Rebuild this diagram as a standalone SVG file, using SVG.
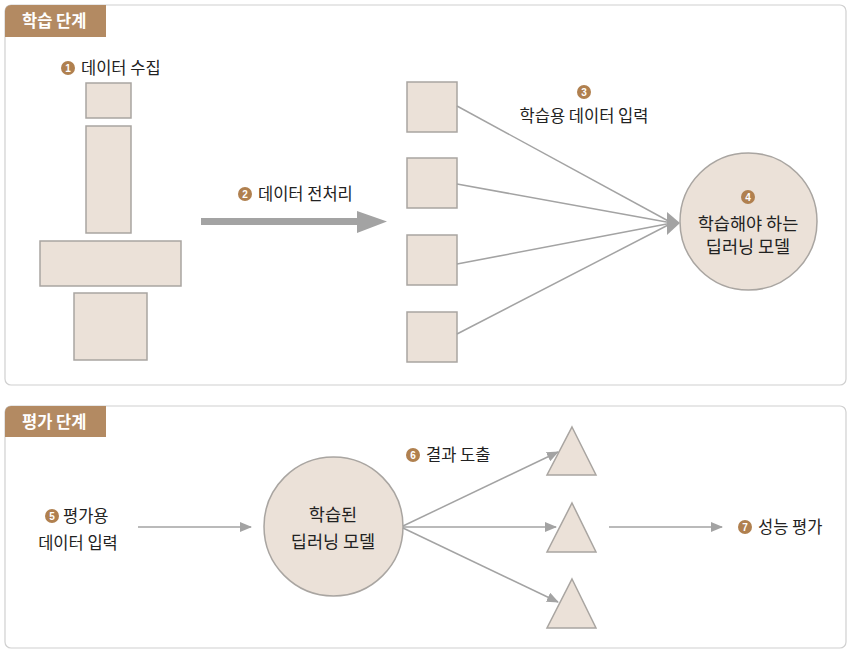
<svg xmlns="http://www.w3.org/2000/svg" width="852" height="654" viewBox="0 0 852 654">
<style>
.panel{fill:#fff;stroke:#d0d0d0;stroke-width:1.2}
.tab{fill:#b38a62}
.tabt{font-family:"Noto Sans CJK KR",sans-serif;font-size:16.5px;font-weight:bold;fill:#fff}
.shape{fill:#ebe1d8;stroke:#a9a5a1;stroke-width:1.5}
.lbl{font-family:"Noto Sans CJK KR",sans-serif;font-size:16.5px;fill:#222}
.big{font-size:17.5px}
.num{fill:#b0804f}
.numt{font-family:"Liberation Sans",sans-serif;font-size:10px;font-weight:bold;fill:#fff;text-anchor:middle}
.ln{stroke:#a3a3a3;stroke-width:1.5;fill:none}
</style>
<defs>
<marker id="ah" markerWidth="12" markerHeight="10" refX="11" refY="5" orient="auto" markerUnits="userSpaceOnUse">
<path d="M0,0 L12,5 L0,10 Z" fill="#a3a3a3"/>
</marker>
</defs>
<g id="panel-train">
<rect class="panel" x="5" y="5" width="841" height="380" rx="6"/>
<path class="tab" d="M5,11 a6,6 0 0 1 6,-6 H106 V37 H5 Z"/>
<text class="tabt" x="22" y="27">학습 단계</text>
</g>
<g id="panel-eval">
<rect class="panel" x="5" y="406" width="841" height="242" rx="6"/>
<path class="tab" d="M5,412 a6,6 0 0 1 6,-6 H106 V437 H5 Z"/>
<text class="tabt" x="22" y="428">평가 단계</text>
</g>
<g id="data-collect">
<rect class="shape" x="86" y="83" width="45" height="35"/>
<rect class="shape" x="86" y="126" width="45" height="107"/>
<rect class="shape" x="40" y="241" width="141" height="45"/>
<rect class="shape" x="74" y="293" width="73" height="67"/>
<circle class="num" cx="68" cy="68" r="7"/><text class="numt" x="68" y="71.5">1</text>
<text class="lbl" x="81" y="74">데이터 수집</text>
</g>
<g id="input-squares">
<rect class="shape" x="407" y="82" width="50" height="50"/>
<rect class="shape" x="407" y="158" width="50" height="50"/>
<rect class="shape" x="407" y="235" width="50" height="50"/>
<rect class="shape" x="407" y="312" width="50" height="50"/>
</g>
<g id="model-train">
<circle class="shape" cx="748.5" cy="221.5" r="68.5"/>
<circle class="num" cx="748" cy="197" r="7"/><text class="numt" x="748" y="200.5">4</text>
<text class="lbl big" x="748" y="230" text-anchor="middle">학습해야 하는</text>
<text class="lbl big" x="748" y="253" text-anchor="middle">딥러닝 모델</text>
</g>
<g id="model-eval">
<circle class="shape" cx="333.5" cy="526.5" r="69.5"/>
<text class="lbl big" x="333" y="521" text-anchor="middle">학습된</text>
<text class="lbl big" x="333" y="548" text-anchor="middle">딥러닝 모델</text>
</g>
<g id="results">
<path class="shape" d="M572,427 L596,475 L547,475 Z"/>
<path class="shape" d="M572,503 L596,552 L547,552 Z"/>
<path class="shape" d="M572,579 L596,628 L547,628 Z"/>
</g>
<g id="labels">
<circle class="num" cx="245" cy="194" r="7"/><text class="numt" x="245" y="197.5">2</text>
<text class="lbl" x="258" y="200">데이터 전처리</text>
<circle class="num" cx="584" cy="92" r="7"/><text class="numt" x="584" y="95.5">3</text>
<text class="lbl" x="584" y="122" text-anchor="middle">학습용 데이터 입력</text>
<circle class="num" cx="52" cy="516" r="7"/><text class="numt" x="52" y="519.5">5</text>
<text class="lbl" x="63" y="522">평가용</text>
<text class="lbl" x="78" y="549" text-anchor="middle">데이터 입력</text>
<circle class="num" cx="413" cy="455" r="7"/><text class="numt" x="413" y="458.5">6</text>
<text class="lbl" x="426" y="461">결과 도출</text>
<circle class="num" cx="745" cy="527" r="7"/><text class="numt" x="745" y="530.5">7</text>
<text class="lbl" x="758" y="533">성능 평가</text>
</g>
<g id="connectors">
<path d="M201,218 H357 V211 L387,221.5 L357,233 V225 H201 Z" fill="#a3a3a3"/>
<line class="ln" x1="457" y1="106" x2="672" y2="223"/>
<line class="ln" x1="457" y1="184" x2="672" y2="223"/>
<line class="ln" x1="457" y1="264" x2="672" y2="223"/>
<line class="ln" x1="457" y1="334" x2="672" y2="223"/>
<path d="M667,212 L680,223 L667,235 Z" fill="#a3a3a3"/>
<line class="ln" x1="138" y1="527" x2="251" y2="527" marker-end="url(#ah)"/>
<line class="ln" x1="403" y1="526" x2="558" y2="452" marker-end="url(#ah)"/>
<line class="ln" x1="403" y1="527" x2="556" y2="527" marker-end="url(#ah)"/>
<line class="ln" x1="403" y1="528" x2="558" y2="602" marker-end="url(#ah)"/>
<line class="ln" x1="609" y1="527" x2="722" y2="527" marker-end="url(#ah)"/>
</g>
</svg>
